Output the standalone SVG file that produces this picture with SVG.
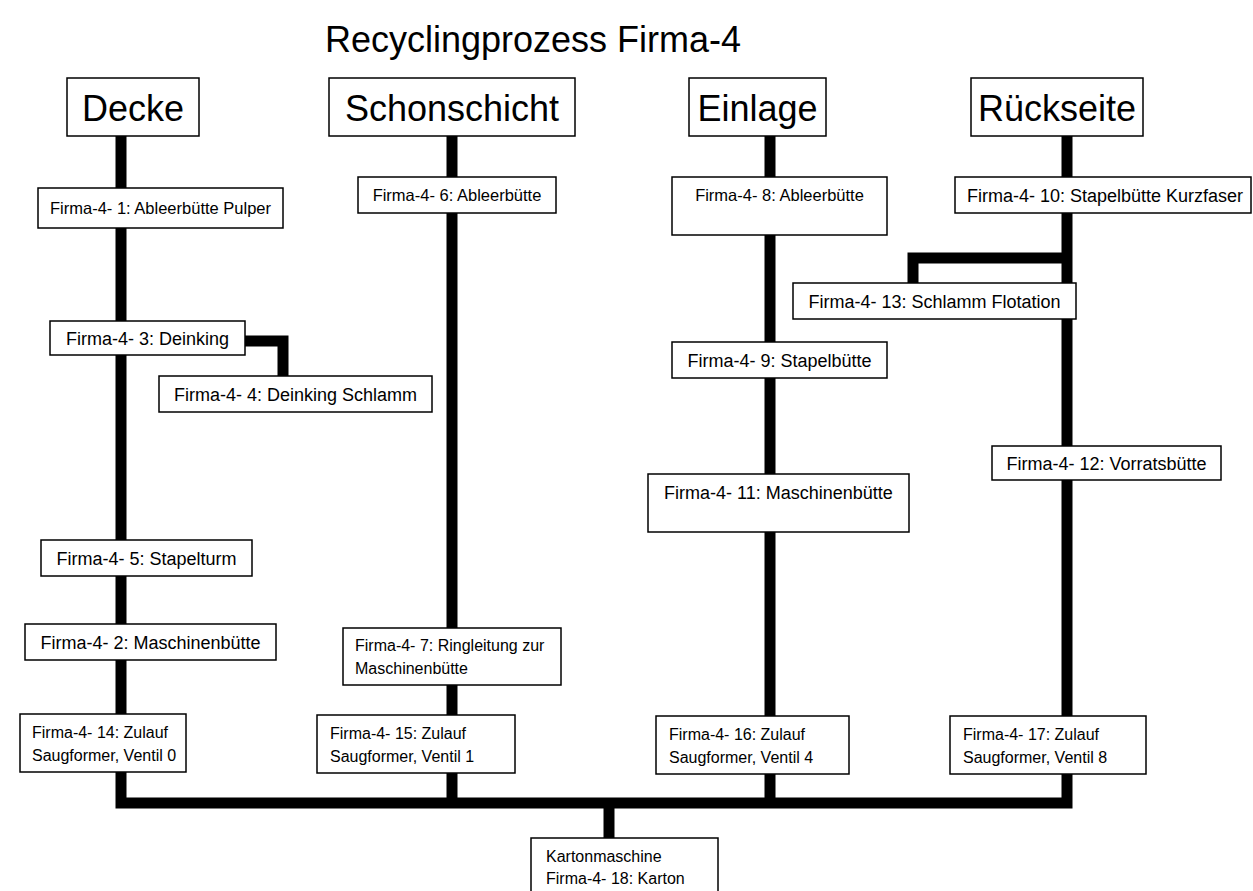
<svg xmlns="http://www.w3.org/2000/svg" width="1253" height="891" viewBox="0 0 1253 891">
<style>
  .box{fill:#fff;stroke:#000;stroke-width:1.5}
  .hd{font-family:"Liberation Sans",Arial,sans-serif;font-size:36px;fill:#000;text-anchor:middle}
  .t{font-family:"Liberation Sans",Arial,sans-serif;font-size:16.5px;fill:#000;text-anchor:middle}
  .tb{font-family:"Liberation Sans",Arial,sans-serif;font-size:18px;fill:#000;text-anchor:middle}
  .tl{font-family:"Liberation Sans",Arial,sans-serif;font-size:16px;fill:#000}
  .title{font-family:"Liberation Sans",Arial,sans-serif;font-size:36px;fill:#000;text-anchor:middle}
  .c{fill:none;stroke:#000;stroke-width:11;stroke-linejoin:miter;stroke-linecap:butt}
</style>
<rect width="1253" height="891" fill="#fff"/>
<text class="title" x="533" y="52">Recyclingprozess Firma-4</text>
<g id="connectors">
  <path class="c" d="M121,136 V803 H1067 V136"/>
  <path class="c" d="M452,136 V803"/>
  <path class="c" d="M770,136 V803"/>
  <path class="c" d="M609,803 V838"/>
  <path class="c" d="M245,341 H283 V376"/>
  <path class="c" d="M1067,258 H913 V283"/>
</g>
<g id="h-decke"><rect class="box" x="67" y="78" width="132" height="58"/><text class="hd" x="133" y="121">Decke</text></g>
<g id="h-schonschicht"><rect class="box" x="329" y="78" width="246" height="58"/><text class="hd" x="452" y="121">Schonschicht</text></g>
<g id="h-einlage"><rect class="box" x="689" y="78" width="137" height="58"/><text class="hd" x="757.5" y="121">Einlage</text></g>
<g id="h-rueckseite"><rect class="box" x="971" y="78" width="172" height="58"/><text class="hd" x="1057" y="121">Rückseite</text></g>

<g id="n1"><rect class="box" x="38" y="188" width="245" height="40"/><text class="t" x="160.5" y="214">Firma-4- 1: Ableerbütte Pulper</text></g>
<g id="n6"><rect class="box" x="358" y="177" width="198" height="36"/><text class="t" x="457" y="201">Firma-4- 6: Ableerbütte</text></g>
<g id="n8"><rect class="box" x="672" y="177" width="215" height="58"/><text class="t" x="779.5" y="201">Firma-4- 8: Ableerbütte</text></g>
<g id="n10"><rect class="box" x="955" y="177" width="296" height="36"/><text class="tb" x="1105" y="201.5">Firma-4- 10: Stapelbütte Kurzfaser</text></g>
<g id="n13"><rect class="box" x="793" y="283" width="283" height="36"/><text class="tb" x="934.5" y="307.5">Firma-4- 13: Schlamm Flotation</text></g>
<g id="n3"><rect class="box" x="50" y="321" width="195" height="34"/><text class="tb" x="147.5" y="344.5">Firma-4- 3: Deinking</text></g>
<g id="n4"><rect class="box" x="159" y="376" width="273" height="36"/><text class="tb" x="295.5" y="400.5">Firma-4- 4: Deinking Schlamm</text></g>
<g id="n9"><rect class="box" x="672" y="342" width="215" height="36"/><text class="tb" x="779.5" y="366.5">Firma-4- 9: Stapelbütte</text></g>
<g id="n12"><rect class="box" x="992" y="446" width="229" height="34"/><text class="tb" x="1106.5" y="469.5">Firma-4- 12: Vorratsbütte</text></g>
<g id="n11"><rect class="box" x="648" y="474" width="261" height="58"/><text class="tb" x="778.5" y="498.5">Firma-4- 11: Maschinenbütte</text></g>
<g id="n5"><rect class="box" x="41" y="540" width="211" height="36"/><text class="tb" x="146.5" y="564.5">Firma-4- 5: Stapelturm</text></g>
<g id="n2"><rect class="box" x="25" y="624" width="251" height="36"/><text class="tb" x="150.5" y="648.5">Firma-4- 2: Maschinenbütte</text></g>
<g id="n7"><rect class="box" x="343" y="628" width="218" height="57"/><text class="tl" x="355" y="651">Firma-4- 7: Ringleitung zur</text><text class="tl" x="355" y="674">Maschinenbütte</text></g>
<g id="n14"><rect class="box" x="20" y="714" width="166" height="58"/><text class="tl" x="32" y="738">Firma-4- 14: Zulauf</text><text class="tl" x="32" y="761">Saugformer, Ventil 0</text></g>
<g id="n15"><rect class="box" x="317" y="715" width="198" height="58"/><text class="tl" x="330" y="739">Firma-4- 15: Zulauf</text><text class="tl" x="330" y="762">Saugformer, Ventil 1</text></g>
<g id="n16"><rect class="box" x="656" y="716" width="193" height="58"/><text class="tl" x="669" y="740">Firma-4- 16: Zulauf</text><text class="tl" x="669" y="763">Saugformer, Ventil 4</text></g>
<g id="n17"><rect class="box" x="950" y="716" width="196" height="58"/><text class="tl" x="963" y="740">Firma-4- 17: Zulauf</text><text class="tl" x="963" y="763">Saugformer, Ventil 8</text></g>
<g id="n18"><rect class="box" x="531" y="838" width="187" height="60"/><text class="tl" x="546" y="862">Kartonmaschine</text><text class="tl" x="546" y="884">Firma-4- 18: Karton</text></g>
</svg>
